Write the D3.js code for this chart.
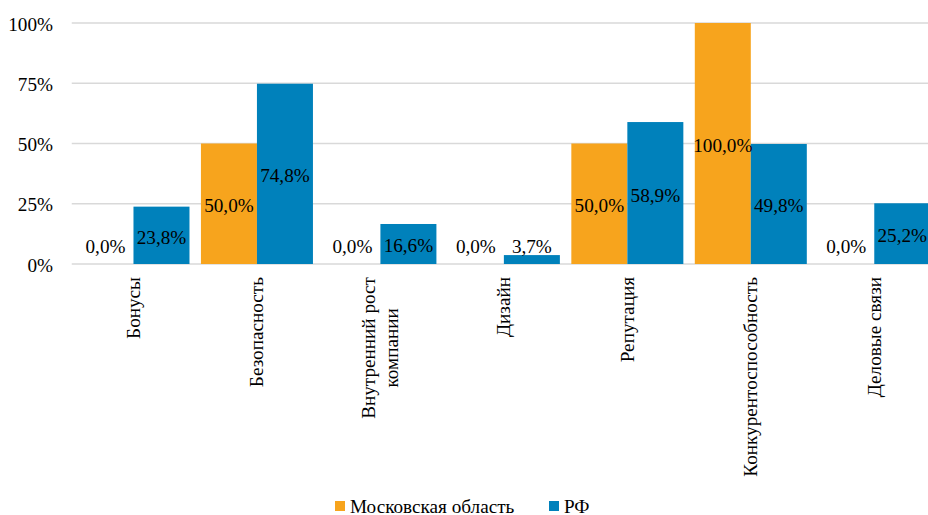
<!DOCTYPE html>
<html>
<head>
<meta charset="utf-8">
<script src="https://cdn.jsdelivr.net/npm/d3@7"></script>
<style>
  html, body { margin: 0; padding: 0; background: #fff; }
  svg { display: block; }
</style>
</head>
<body>
<svg id="chart" width="928" height="515"></svg>
<script>
const categories = ["Бонусы", "Безопасность", "Внутренний рост\nкомпании", "Дизайн", "Репутация", "Конкурентоспособность", "Деловые связи"];
const seriesNames = ["Московская область", "РФ"];
const moscowValues = [0, 50, 0, 0, 50, 100, 0];
const rfValues = [23.8, 74.8, 16.6, 3.7, 58.9, 49.8, 25.2];
const yTicks = [0, 25, 50, 75, 100];
const colors = ["#F7A41D", "#0081BB"];

const FONT = "Liberation Serif";
const FS = 19.2;
const svg = d3.select("#chart");
const W = 928, H = 515;
const plot = { left: 71.75, right: 936, top: 23, bottom: 264 };

const x = d3.scaleBand().domain(categories)
  .range([plot.left, plot.right])
  .paddingInner(0.0928).paddingOuter(0.0464);
const x1 = d3.scaleBand().domain(seriesNames).range([0, x.bandwidth()]).padding(0);
const y = d3.scaleLinear().domain([0, 100]).range([plot.bottom, plot.top]);

function styleText(sel) {
  return sel.style("font-family", FONT).style("font-size", FS + "px").attr("fill", "#000");
}

// gridlines
svg.append("g").selectAll("line").data(yTicks).join("line")
  .attr("x1", plot.left).attr("x2", W)
  .attr("y1", d => y(d)).attr("y2", d => y(d))
  .attr("stroke", "#D9D9D9").attr("stroke-width", 1.3);

// y axis labels
styleText(svg.append("g").selectAll("text").data(yTicks).join("text"))
  .attr("x", 53).attr("y", d => y(d) + 1)
  .attr("text-anchor", "end").attr("dominant-baseline", "central")
  .text(d => d + "%");

const rows = categories.map((c, i) => ({ cat: c, vals: [moscowValues[i], rfValues[i]] }));
const fmt = v => d3.format(".1f")(v).replace(".", ",") + "%";

const groups = svg.append("g").selectAll("g").data(rows).join("g")
  .attr("transform", d => `translate(${x(d.cat)},0)`);

groups.selectAll("rect").data(d => d.vals.map((v, j) => ({ v, s: seriesNames[j], j })))
  .join("rect")
  .attr("x", d => x1(d.s)).attr("width", x1.bandwidth())
  .attr("y", d => y(d.v)).attr("height", d => y(0) - y(d.v))
  .attr("fill", d => colors[d.j]);

styleText(groups.selectAll("text.lbl").data(d => d.vals.map((v, j) => ({ v, s: seriesNames[j], j })))
  .join("text").attr("class", "lbl"))
  .attr("x", d => x1(d.s) + x1.bandwidth() / 2)
  .attr("y", d => Math.min(y(d.v / 2), y(0) - 20) + 2)
  .attr("text-anchor", "middle").attr("dominant-baseline", "central")
  .text(d => fmt(d.v));

// x axis labels (rotated)
const xl = svg.append("g").selectAll("g").data(categories).join("g")
  .attr("transform", d => `translate(${x(d) + x.bandwidth() / 2},277) rotate(-90)`);
xl.each(function(d) {
  const g = d3.select(this);
  const lines = d.split("\n");
  const n = lines.length;
  const ts = lines.map((ln, i) => styleText(g.append("text"))
    .attr("dominant-baseline", "central")
    .attr("y", (i - (n - 1) / 2) * 23)
    .text(ln));
  const maxLen = d3.max(ts, t => t.node().getComputedTextLength());
  ts.forEach(t => t.attr("text-anchor", "middle").attr("x", -maxLen / 2));
});

// legend
const legendItems = [{ name: seriesNames[0], c: colors[0], x: 335 }, { name: seriesNames[1], c: colors[1], x: 549 }];
const lg = svg.append("g").selectAll("g").data(legendItems).join("g")
  .attr("transform", d => `translate(${d.x},505)`);
lg.append("rect").attr("x", 0).attr("y", -4).attr("width", 10).attr("height", 10).attr("fill", d => d.c);
styleText(lg.append("text")).attr("x", 15).attr("y", 1).attr("dominant-baseline", "central")
  .text(d => d.name);
</script>
</body>
</html>
